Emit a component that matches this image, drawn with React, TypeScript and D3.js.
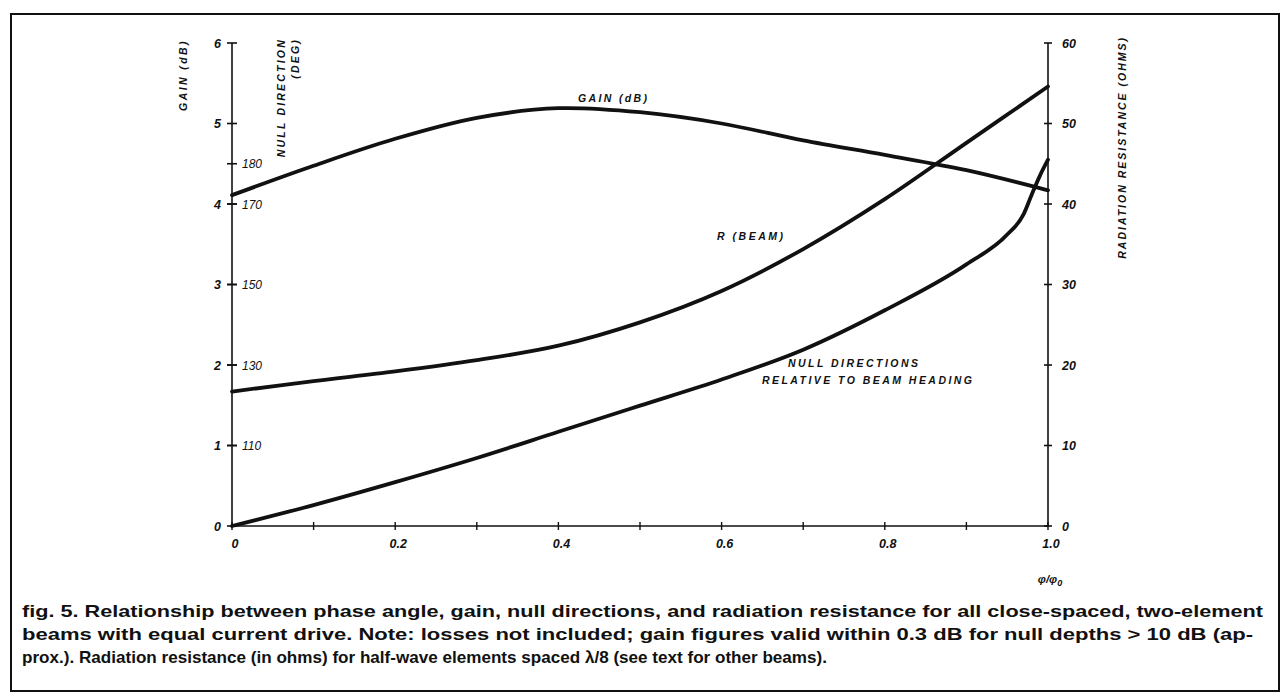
import React from "react";
import * as d3 from "d3";

// ---- data ----
const xTickValues = [0, 0.1, 0.2, 0.3, 0.4, 0.5, 0.6, 0.7, 0.8, 0.9, 1.0];
const xLabelValues = [0, 0.2, 0.4, 0.6, 0.8, 1.0];
const xTickLabels = ["0", "0.2", "0.4", "0.6", "0.8", "1.0"];
const gainTicks = [0, 1, 2, 3, 4, 5, 6];
const gainTickLabels = ["0", "1", "2", "3", "4", "5", "6"];
const nullTicks = [110, 130, 150, 170, 180];
const nullTickLabels = ["110", "130", "150", "170", "180"];
const resTicks = [0, 10, 20, 30, 40, 50, 60];
const resTickLabels = ["0", "10", "20", "30", "40", "50", "60"];

const gainPhase = [0, 0.1, 0.2, 0.3, 0.4, 0.5, 0.6, 0.7, 0.8, 0.9, 1.0];
const gainValues = [4.11, 4.475, 4.81, 5.07, 5.19, 5.14, 5.0, 4.79, 4.61, 4.42, 4.17];

const rPhase = [0, 0.1, 0.2, 0.3, 0.4, 0.5, 0.6, 0.7, 0.8, 0.9, 1.0];
const rValues = [16.7, 18.0, 19.2, 20.6, 22.4, 25.3, 29.2, 34.4, 40.6, 47.6, 54.6];

const nullPhase = [0, 0.1, 0.2, 0.3, 0.4, 0.5, 0.6, 0.7, 0.8, 0.9, 0.95, 0.97, 0.98, 0.99, 1.0];
const nullValues = [90, 95.2, 100.9, 106.9, 113.4, 119.9, 126.4, 133.8, 143.6, 155.0, 162.4, 167.4, 172.3, 177, 181];

const captionLines = [
  "fig. 5. Relationship between phase angle, gain, null directions, and radiation resistance for all close-spaced, two-element",
  "beams with equal current drive. Note: losses not included; gain figures valid within 0.3 dB for null depths > 10 dB (ap-",
  "prox.). Radiation resistance (in ohms) for half-wave elements spaced \u03bb/8 (see text for other beams).",
];

// ---- layout ----
const X0 = 232;
const X1 = 1048;
const YB = 526;
const YT = 43;

const FONT = "'Liberation Sans', Arial, sans-serif";

export default function App() {
  const x = d3.scaleLinear().domain([0, 1]).range([X0, X1]);
  const yGain = d3.scaleLinear().domain([0, 6]).range([YB, YT]);
  const yNull = d3.scaleLinear().domain([90, 210]).range([YB, YT]);
  const yRes = d3.scaleLinear().domain([0, 60]).range([YB, YT]);

  const smooth = d3.line<[number, number]>().curve(d3.curveCatmullRom.alpha(0.5));
  const mono = d3.line<[number, number]>().curve(d3.curveMonotoneX);

  const gainPath = smooth(gainPhase.map((p, i) => [x(p), yGain(gainValues[i])]));
  const rPath = smooth(rPhase.map((p, i) => [x(p), yRes(rValues[i])]));
  const nullPath = mono(nullPhase.map((p, i) => [x(p), yNull(nullValues[i])]));

  const lbl = {
    fontFamily: FONT,
    fontStyle: "italic" as const,
    fontWeight: 700,
    fill: "#111",
  };

  const captionWidths = [1241, 1231, 805];

  return (
    <svg width={1288} height={700} style={{ position: "absolute", left: 0, top: 0, background: "#fff" }}>
      <rect x={0} y={0} width={1288} height={700} fill="#fff" />
      {/* frame */}
      <rect x={11} y={14} width={1268} height={677} fill="none" stroke="#111" strokeWidth={2} />

      {/* left axis */}
      <line x1={X0} x2={X0} y1={yGain(6)} y2={YB} stroke="#111" strokeWidth={1.6} />
      {gainTicks.map((t, i) => (
        <g key={"g" + t}>
          <line x1={X0 - 5} x2={X0 + 5} y1={yGain(t)} y2={yGain(t)} stroke="#111" strokeWidth={1.6} />
          <text x={X0 - 11} y={yGain(t) + 4.5} textAnchor="end" fontSize={12.5} {...lbl}>
            {gainTickLabels[i]}
          </text>
        </g>
      ))}
      {nullTicks.map((t, i) => (
        <g key={"n" + t}>
          <line x1={X0 - 5} x2={X0 + 5} y1={yNull(t)} y2={yNull(t)} stroke="#111" strokeWidth={1.6} />
          <text x={X0 + 10} y={yNull(t) + 4.5} textAnchor="start" fontSize={12} {...lbl} fontWeight={400}>
            {nullTickLabels[i]}
          </text>
        </g>
      ))}

      {/* right axis */}
      <line x1={X1} x2={X1} y1={yRes(60)} y2={YB} stroke="#111" strokeWidth={1.6} />
      {resTicks.map((t, i) => (
        <g key={"r" + t}>
          <line x1={X1 - 4} x2={X1 + 4} y1={yRes(t)} y2={yRes(t)} stroke="#111" strokeWidth={1.6} />
          <text x={X1 + 14} y={yRes(t) + 4.5} textAnchor="start" fontSize={12.5} {...lbl}>
            {resTickLabels[i]}
          </text>
        </g>
      ))}

      {/* bottom axis */}
      <line x1={X0} x2={X1} y1={YB} y2={YB} stroke="#111" strokeWidth={1.6} />
      {xTickValues.map((t) => (
        <line key={"xt" + t} x1={x(t)} x2={x(t)} y1={YB - 4} y2={YB + 4} stroke="#111" strokeWidth={1.4} />
      ))}
      {xLabelValues.map((t, i) => (
        <text key={"xl" + t} x={x(t) + 3} y={YB + 22} textAnchor="middle" fontSize={12.5} {...lbl}>
          {xTickLabels[i]}
        </text>
      ))}
      <text x={1050} y={583} textAnchor="middle" fontSize={11.5} {...lbl}>
        {"\u03c6/\u03c6"}
        <tspan fontSize={9} dy={3}>0</tspan>
      </text>

      {/* axis titles */}
      <text transform="translate(187,75) rotate(-90)" textAnchor="middle" fontSize={10.5} letterSpacing={2.4} {...lbl}>
        GAIN (dB)
      </text>
      <text transform="translate(285,38) rotate(-90)" textAnchor="end" fontSize={10.5} letterSpacing={2.2} {...lbl}>
        NULL DIRECTION
      </text>
      <text transform="translate(299,38) rotate(-90)" textAnchor="end" fontSize={10.5} letterSpacing={2.2} {...lbl}>
        (DEG)
      </text>
      <text transform="translate(1126,36) rotate(-90)" textAnchor="end" fontSize={10.5} letterSpacing={2.0} {...lbl}>
        RADIATION RESISTANCE (OHMS)
      </text>

      {/* curves */}
      <path d={gainPath || ""} fill="none" stroke="#111" strokeWidth={3.8} strokeLinecap="round" />
      <path d={rPath || ""} fill="none" stroke="#111" strokeWidth={3.8} strokeLinecap="round" />
      <path d={nullPath || ""} fill="none" stroke="#111" strokeWidth={3.8} strokeLinecap="round" />

      {/* curve labels */}
      <text x={578} y={102} fontSize={10.5} textLength={69} lengthAdjust="spacing" {...lbl}>GAIN (dB)</text>
      <text x={717} y={240} fontSize={10.5} textLength={66} lengthAdjust="spacing" {...lbl}>R (BEAM)</text>
      <text x={788} y={367} fontSize={10.5} textLength={130} lengthAdjust="spacing" {...lbl}>NULL DIRECTIONS</text>
      <text x={762} y={384} fontSize={10.5} textLength={210} lengthAdjust="spacing" {...lbl}>RELATIVE TO BEAM HEADING</text>

      {/* caption */}
      {captionLines.map((c, i) => (
        <text
          key={"c" + i}
          x={22}
          y={617 + i * 23}
          fontSize={16.5}
          fontFamily={FONT}
          fontWeight={700}
          fill="#111"
          textLength={captionWidths[i]}
          lengthAdjust="spacingAndGlyphs"
        >
          {c}
        </text>
      ))}
    </svg>
  );
}
